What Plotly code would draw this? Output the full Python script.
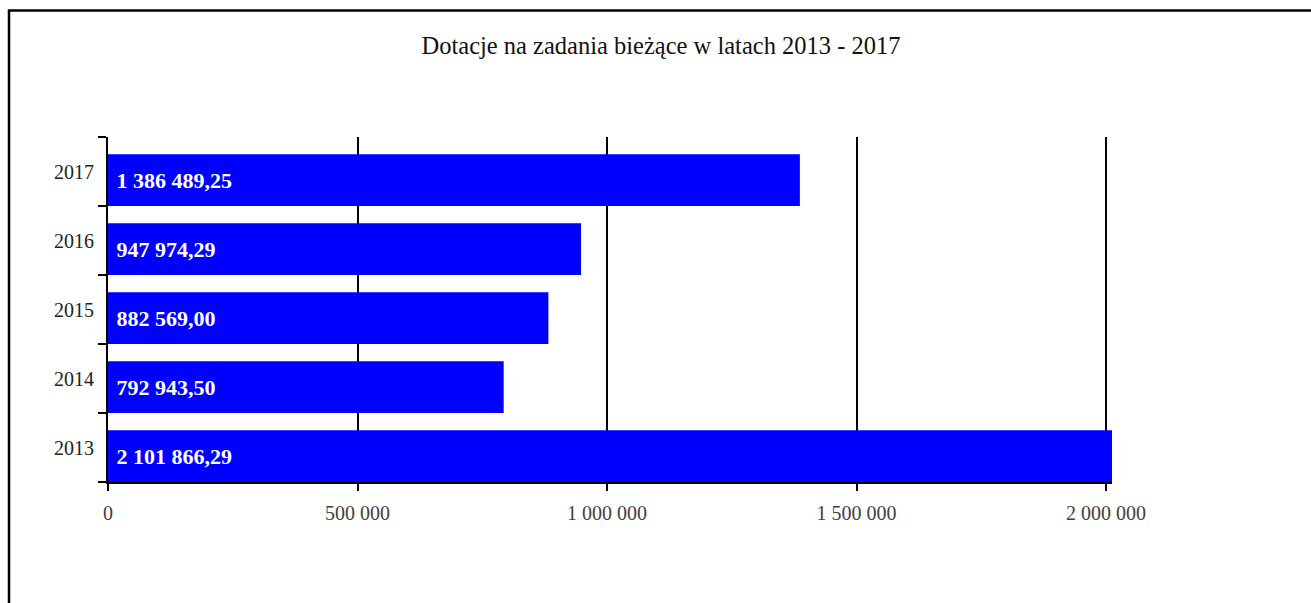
import plotly.graph_objects as go

years = ["2013", "2014", "2015", "2016", "2017"]
values = [2101866.29, 792943.50, 882569.00, 947974.29, 1386489.25]
labels = ["2 101 866,29", "792 943,50", "882 569,00", "947 974,29", "1 386 489,25"]
x_tickvals = [0, 500000, 1000000, 1500000, 2000000]
x_ticktext = ["0", "500 000", "1 000 000", "1 500 000", "2 000 000"]
title_text = "Dotacje na zadania bieżące w latach 2013 - 2017"

FONT = "Liberation Serif"

fig = go.Figure()
fig.add_trace(go.Bar(
    y=years, x=values, orientation="h",
    marker=dict(color="#0000FF", line=dict(width=0)),
    width=0.75, offset=-0.5,
    text=labels, texttemplate="\u00a0%{text}",
    textposition="inside", insidetextanchor="start",
    textangle=0,
    textfont=dict(family=FONT, size=22, color="white", weight="bold"),
    hoverinfo="skip",
))

fig.update_layout(
    width=1311, height=603,
    margin=dict(l=108, r=199, t=137, b=121),
    paper_bgcolor="white", plot_bgcolor="white",
    showlegend=False,
    font=dict(family=FONT, color="#333333"),
    title=dict(text=title_text, x=661 / 1311, xref="container", xanchor="center",
               y=1 - 45 / 603, yref="container", yanchor="middle",
               font=dict(family=FONT, size=24.5, color="#111111")),
    xaxis=dict(range=[0, 2012000], tickvals=x_tickvals, ticktext=x_ticktext,
               showgrid=True, gridcolor="black", gridwidth=2,
               showline=True, linecolor="black", linewidth=2,
               ticks="outside", ticklen=7, tickwidth=2, tickcolor="black",
               zeroline=False, fixedrange=True, ticklabelstandoff=5,
               tickfont=dict(family=FONT, size=20, color="#404040")),
    yaxis=dict(type="category", categoryorder="array", categoryarray=years,
               showgrid=False, showline=True, linecolor="black", linewidth=2,
               ticks="outside", tickson="boundaries", ticklen=8, tickwidth=2,
               tickcolor="black", fixedrange=True, ticklabelstandoff=8,
               tickfont=dict(family=FONT, size=20, color="#222222")),
    shapes=[dict(type="rect", xref="paper", yref="paper",
                 x0=(9 - 108) / 1004, x1=1.5,
                 y0=-0.5, y1=(482 - 10.5) / 345,
                 line=dict(color="black", width=2.5), fillcolor="rgba(0,0,0,0)",
                 layer="below")],
)

fig.write_html("out.html", config={"displayModeBar": False},
               post_script="document.body.style.margin='0';document.body.style.overflow='hidden';")
